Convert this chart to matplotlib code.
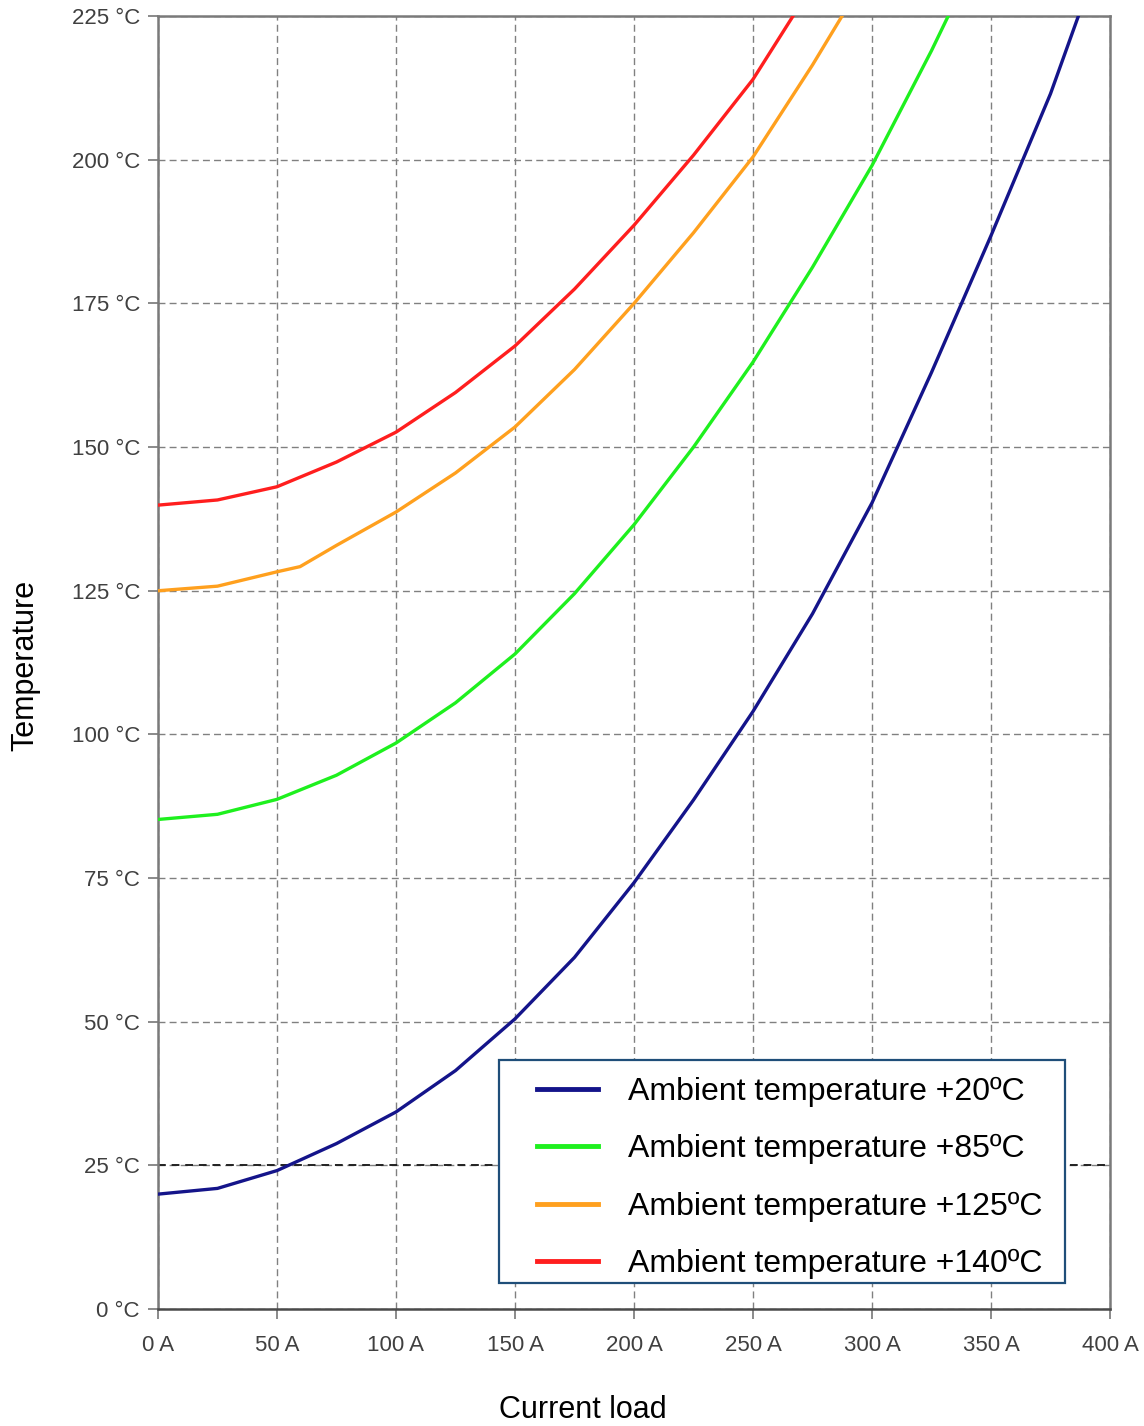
import matplotlib.pyplot as plt
from matplotlib.patches import Rectangle

plt.rcParams['font.family'] = ['Liberation Sans', 'DejaVu Sans']

# Current load (A) and conductor temperature (°C)
current_20 = [0, 25, 50, 75, 100, 125, 150, 175, 200, 225, 250, 275, 300, 325, 350, 375, 386.7]
temp_20 = [20, 21, 24.1, 28.8, 34.3, 41.5, 50.5, 61.2, 74.2, 88.6, 104, 121, 140.3, 163,
           186.8, 211.5, 225]

current_85 = [0, 25, 50, 75, 100, 125, 150, 175, 200, 225, 250, 275, 300, 325, 332]
temp_85 = [85.2, 86.1, 88.7, 92.9, 98.5, 105.5, 114, 124.5, 136.5, 150, 164.8, 181.3, 199, 219, 225]

current_125 = [0, 25, 50, 59.7, 75, 100, 125, 150, 175, 200, 225, 250, 275, 287.4]
temp_125 = [125, 125.8, 128.3, 129.2, 132.9, 138.7, 145.5, 153.5, 163.5, 175, 187.3, 200.5,
            216.5, 225]

current_140 = [0, 25, 50, 75, 100, 125, 150, 175, 200, 225, 250, 266.8]
temp_140 = [139.9, 140.8, 143.1, 147.4, 152.6, 159.5, 167.6, 177.5, 188.6, 200.8, 214, 225]

labels = ["Ambient temperature +20ºC", "Ambient temperature +85ºC",
          "Ambient temperature +125ºC", "Ambient temperature +140ºC"]
colors = ["#14148a", "#1ef01e", "#ffa01e", "#ff1e1e"]

x_ticks = list(range(0, 401, 50))
y_ticks = list(range(0, 226, 25))

fig = plt.figure(figsize=(11.44, 14.26), dpi=100)
ax = fig.add_axes([0.1381, 0.0820, 0.8322, 0.9067])

series = [(current_20, temp_20), (current_85, temp_85),
          (current_125, temp_125), (current_140, temp_140)]
for (cx, ty), lab, col in zip(series, labels, colors):
    ax.plot(cx, ty, color=col, lw=2.4, label=lab, solid_joinstyle='round', zorder=3)

ax.set_xlim(0, 400)
ax.set_ylim(0, 225)
ax.set_xticks(x_ticks)
ax.set_yticks(y_ticks)
ax.set_xticklabels(["{} A".format(v) for v in x_ticks])
ax.set_yticklabels(["{} °C".format(v) for v in y_ticks])
ax.tick_params(axis='both', direction='out', length=7, width=1.2, color='#777777',
               labelsize=16, labelcolor='#404040')
ax.tick_params(axis='x', pad=12)
ax.tick_params(axis='y', pad=6)

# grid, 25 °C line drawn darker
ax.grid(True, linestyle=(0, (5, 3)), color='#808080', lw=1.0, zorder=1)
ax.axhline(25, color='#222222', lw=1.4, linestyle=(0, (4, 3)), zorder=2)

for s in ax.spines.values():
    s.set_color('#7a7a7a')
    s.set_linewidth(1.8)
ax.spines['bottom'].set_color('#4a4a4a')

fig.text(0.5096, 0.0112, "Current load", fontsize=22, ha='center', va='center')
fig.text(0.0219, 0.5337, "Temperature", fontsize=22, ha='center', va='center', rotation=90)

# legend box
box = Rectangle((0.358, 0.0201), 0.5945, 0.1725, transform=ax.transAxes,
                facecolor='white', edgecolor='#1f4e79', lw=1.6, zorder=4)
ax.add_patch(box)
leg = ax.legend(loc='upper left', bbox_to_anchor=(0.398, 0.1795), fontsize=23,
                handlelength=1.91, handletextpad=0.94, labelspacing=0.85,
                borderpad=0, borderaxespad=0, frameon=False)
leg.set_zorder(5)
for h in leg.get_lines():
    h.set_linewidth(3.5)

fig.savefig("out.png", dpi=100)
